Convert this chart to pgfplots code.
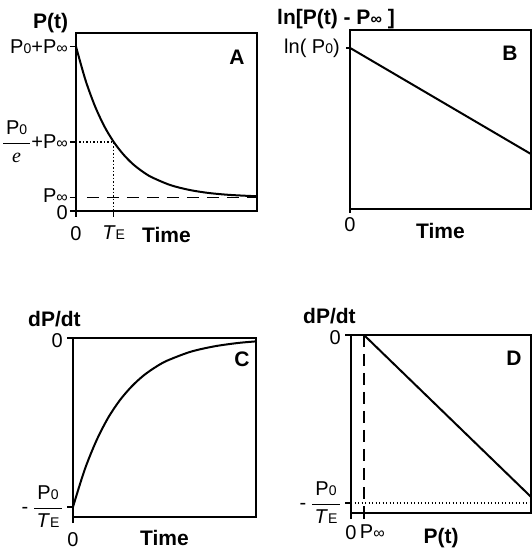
\documentclass[border=0pt]{standalone}
\usepackage{amsmath}
\usepackage{fontspec}
\setmainfont{Liberation Sans}
\newfontfamily\serif{Liberation Serif}
\usepackage{pgfplots}
\pgfplotsset{compat=1.18}
\newcommand\tl{\fontsize{20}{22}\selectfont}
\newcommand\bl{\fontsize{21}{23}\selectfont\bfseries}
\newcommand\sub[1]{{\fontsize{14}{14}\selectfont #1}}
\newcommand\infy{{\fontsize{16}{16}\selectfont ∞}}
\newcommand\TE{\textit{T}\sub{E}}
\newcommand\frc[2]{$\dfrac{\mbox{\hspace{3pt}#1\hspace{3pt}}}{\mbox{#2}}$}
\pgfplotsset{
  panel/.style={
    scale only axis, anchor=south west,
    axis line style={line width=1.5pt},
    tick style={line width=1.5pt, black},
    major tick length=6pt, tick align=outside, tick pos=left,
    xticklabel style={font=\tl, inner sep=0pt, anchor=north},
    yticklabel style={font=\tl, inner sep=0pt, anchor=east},
    every axis x label/.style={at={(axis description cs:0.5,0)}, anchor=north, inner sep=0pt, font=\bl},
    every axis y label/.style={at={(axis description cs:0,1)}, anchor=base west, inner sep=0pt, font=\bl},
    clip=false,
  },
  curve/.style={black, line width=2pt, no markers},
}
\begin{document}
\begin{tikzpicture}
\path[use as bounding box] (0,0) rectangle (532pt,550pt);

% Panel A
\begin{axis}[panel, at={(76pt,339pt)}, width=181pt, height=178pt,
  xmin=0, xmax=4.8, ymin=0, ymax=1.18,
  xtick={0,1}, xticklabels={0,\TE},
  ytick={0,0.09,0.458,1.09},
  yticklabels={\raisebox{-9pt}[0pt][0pt]{0}, \raisebox{-5pt}[0pt][0pt]{P\infy}, {\frc{P\sub{0}}{\serif\itshape e}+P\infy}, P\sub{0}+P\infy},
  xticklabel style={yshift=-9pt}, yticklabel style={xshift=-2pt},
  xlabel={Time}, ylabel={P(t)},
  xlabel style={yshift=-16pt}, ylabel style={xshift=-43pt, yshift=4pt}]
\addplot[curve, smooth] coordinates {(0,1.09)(0.25,0.869)(0.5,0.697)(0.75,0.562)(1,0.458)(1.25,0.377)(1.5,0.313)(1.75,0.264)(2,0.225)(2.5,0.172)(3,0.140)(3.5,0.120)(4,0.108)(4.5,0.101)(4.8,0.098)};
\addplot[black, line width=1.3pt, dash pattern=on 1.3pt off 2.2pt] coordinates {(0,0.458)(1,0.458)(1,0)};
\addplot[black, line width=1.6pt, dash pattern=on 12pt off 8pt] coordinates {(0.29,0.09)(4.8,0.09)};
\node[font=\bl, xshift=-20pt, yshift=-24pt] at (rel axis cs:1,1) {A};
\end{axis}

% Panel B
\begin{axis}[panel, at={(350pt,341pt)}, width=181pt, height=179pt,
  xmin=0, xmax=1, ymin=0, ymax=1,
  xtick={0}, xticklabels={0},
  ytick={0.90}, yticklabels={ln( P\sub{0})},
  xticklabel style={yshift=-4pt}, yticklabel style={xshift=-6pt},
  major tick length=4pt,
  xlabel={Time}, ylabel={ln[P(t) - P\infy\ ]},
  xlabel style={yshift=-14pt}, ylabel style={xshift=-73pt, yshift=5pt}]
\addplot[curve] coordinates {(0,0.90)(1,0.307)};
\node[font=\bl, xshift=-21pt, yshift=-23pt] at (rel axis cs:1,1) {B};
\end{axis}

% Panel C
\begin{axis}[panel, at={(73pt,33pt)}, width=183pt, height=179pt,
  xmin=0, xmax=3.9, ymin=-1.06, ymax=0,
  xtick={0}, xticklabels={0},
  ytick={-1,0}, yticklabels={{-\hspace{5pt}\frc{P\sub{0}}{\TE}}, \raisebox{-9pt}[0pt][0pt]{0}},
  xticklabel style={yshift=-9pt}, yticklabel style={xshift=-4pt},
  xlabel={Time}, ylabel={dP/dt},
  xlabel style={yshift=-13pt}, ylabel style={xshift=-45pt, yshift=12pt}]
\addplot[curve, smooth] coordinates {(0,-1)(0.25,-0.779)(0.5,-0.607)(0.75,-0.472)(1,-0.368)(1.25,-0.287)(1.5,-0.223)(1.75,-0.174)(2,-0.135)(2.5,-0.082)(3,-0.050)(3.5,-0.030)(3.9,-0.020)};
\node[font=\bl, xshift=-14pt, yshift=-21pt] at (rel axis cs:1,1) {C};
\end{axis}

% Panel D
\begin{axis}[panel, at={(351pt,37pt)}, width=180pt, height=178pt,
  xmin=0, xmax=1, ymin=-1.06, ymax=0,
  xtick={0,0.072}, xticklabels={0,\makebox[0pt][l]{\hspace{-4pt}P\infy}},
  ytick={-1,0}, yticklabels={{-\hspace{5pt}\frc{P\sub{0}}{\TE}}, \raisebox{-9pt}[0pt][0pt]{0}},
  xticklabel style={yshift=-6pt}, yticklabel style={xshift=-4pt},
  xlabel={P(t)}, ylabel={dP/dt},
  xlabel style={yshift=-15pt}, ylabel style={xshift=-48pt, yshift=11pt}]
\addplot[curve] coordinates {(0.072,0)(1,-0.964)};
\addplot[black, line width=1.3pt, dash pattern=on 1.3pt off 2.2pt] coordinates {(0,-1)(1,-1)};
\addplot[black, line width=1.6pt, dash pattern=on 12pt off 7pt] coordinates {(0.072,0)(0.072,-1.06)};
\node[font=\bl, xshift=-17pt, yshift=-23pt] at (rel axis cs:1,1) {D};
\end{axis}
\end{tikzpicture}
\end{document}
